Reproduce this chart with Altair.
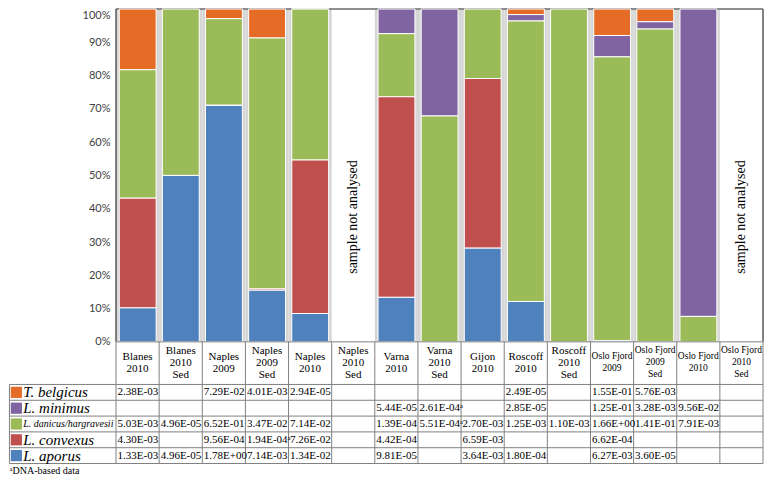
import altair as alt
import pandas as pd

# ---------------- data ----------------
columns = ["Blanes\n2010", "Blanes\n2010\nSed", "Naples\n2009", "Naples\n2009\nSed",
           "Naples\n2010", "Naples\n2010\nSed", "Varna\n2010", "Varna\n2010\nSed",
           "Gijon\n2010", "Roscoff\n2010", "Roscoff\n2010\nSed", "Oslo Fjord\n2009",
           "Oslo Fjord\n2009\nSed", "Oslo Fjord\n2010", "Oslo Fjord\n2010\nSed"]

species_keys = ["belgicus", "minimus", "danicus", "convexus", "aporus"]          # table order
species_names = ["T. belgicus", "L. minimus", "L. danicus/hargravesii", "L. convexus", "L. aporus"]
species_colors = ["#E46C26", "#8064A2", "#9BBB59", "#C0504D", "#4F81BD"]
stack_order = ["aporus", "convexus", "danicus", "minimus", "belgicus"]          # bottom -> top

belgicus = [2.38e-3, None, 7.29e-2, 4.01e-3, 2.94e-5, None, None, None, None, 2.49e-5, None, 1.55e-1, 5.76e-3, None, None]
minimus = [None, None, None, None, None, None, 5.44e-5, 2.61e-4, None, 2.85e-5, None, 1.25e-1, 3.28e-3, 9.56e-2, None]
danicus = [5.03e-3, 4.96e-5, 6.52e-1, 3.47e-2, 7.14e-2, None, 1.39e-4, 5.51e-4, 2.70e-3, 1.25e-3, 1.10e-3, 1.66e0, 1.41e-1, 7.91e-3, None]
convexus = [4.30e-3, None, 9.56e-4, 1.94e-4, 7.26e-2, None, 4.42e-4, None, 6.59e-3, None, None, 6.62e-4, None, None, None]
aporus = [1.33e-3, 4.96e-5, 1.78e0, 7.14e-3, 1.34e-2, None, 9.81e-5, None, 3.64e-3, 1.80e-4, None, 6.27e-3, 3.60e-5, None, None]
dna_based = [("convexus", 3), ("minimus", 7), ("danicus", 7)]

not_analysed_text = "sample not analysed"
footnote = "\u1d43DNA-based data"
y_ticks = [0, 0.1, 0.2, 0.3, 0.4, 0.5, 0.6, 0.7, 0.8, 0.9, 1.0]

series = {"belgicus": belgicus, "minimus": minimus, "danicus": danicus,
          "convexus": convexus, "aporus": aporus}

# ---------------- layout constants ----------------
W, H = 754, 466
XL = -2.481                      # left edge of the row-label column (column units)
YMIN, YMAX = -0.40, 1.0
HEAD_H = 0.128
ROW_H = 0.0475
HEAD_LINE = 12                   # px line height of header text
SERIF = "Liberation Serif"
LINE = "#808080"

xs = alt.Scale(domain=[XL, 15], nice=False, zero=False)
ys = alt.Scale(domain=[YMIN, YMAX], nice=False, zero=False)
px_per_col = W / (15 - XL)
px_per_y = H / (YMAX - YMIN)
color_scale = alt.Scale(domain=species_keys, range=species_colors)

# long table
rows = []
for r, key in enumerate(species_keys):
    for i, v in enumerate(series[key]):
        if v is None:
            continue
        lab = f"{v:.2E}" + ("\u1d43" if (key, i) in dna_based else "")
        rows.append({"species": key, "idx": i, "value": v, "label": lab,
                     "row": r, "sidx": stack_order.index(key)})
df = pd.DataFrame(rows)

cols_df = pd.DataFrame({"col": columns, "idx": list(range(15))})
analysed = sorted(df["idx"].unique().tolist())
cols_df["analysed"] = cols_df["idx"].isin(analysed)

yaxis = alt.Axis(values=y_ticks, format=".0%", offset=-(0 - XL) * px_per_col,
                 domain=False, ticks=False, grid=False, labelPadding=6,
                 labelFont="Lato", labelFontSize=11, labelColor="#404040",
                 labelFlush=True, title=None)

def X(f):
    return alt.X(f, type="quantitative", scale=xs, axis=None)

def Y(f):
    return alt.Y(f, type="quantitative", scale=ys, axis=yaxis)

# gray background behind analysed bars
bg = alt.Chart(cols_df).transform_filter("datum.analysed").transform_calculate(
    xa="datum.idx", xb="datum.idx + 1", ya="0", yb="1"
).mark_rect(color="#d6d6d6").encode(
    x=X("xa:Q"), x2="xb:Q", y=Y("ya:Q"), y2="yb:Q")

# frame lines of plot area
frame_df = pd.DataFrame({"part": ["top", "left", "right"]})
top_line = alt.Chart(frame_df).transform_filter("datum.part == 'top'").transform_calculate(
    xa="0", xb="15", ya="1").mark_rule(color="#6a6a6a", strokeWidth=1.5).encode(
    x=X("xa:Q"), x2="xb:Q", y=Y("ya:Q"))
side_lines = alt.Chart(frame_df).transform_filter("datum.part != 'top'").transform_calculate(
    xa="datum.part == 'left' ? 0 : 15", ya="0", yb="1").mark_rule(color="#595959", strokeWidth=1.5).encode(
    x=X("xa:Q"), y=Y("ya:Q"), y2="yb:Q")

# stacked 100% bars
bars = alt.Chart(df).transform_stack(
    stack="value", groupby=["idx"], as_=["y0", "y1"], offset="normalize",
    sort=[alt.SortField("sidx", order="ascending")]
).transform_calculate(
    xa="datum.idx + 0.075", xb="datum.idx + 0.93"
).mark_rect(stroke="white", strokeWidth=1).encode(
    x=X("xa:Q"), x2="xb:Q", y=Y("y0:Q"), y2="y1:Q",
    color=alt.Color("species:N", scale=color_scale, legend=None))

# "sample not analysed"
na_text = alt.Chart(cols_df).transform_filter("!datum.analysed").transform_calculate(
    xc="datum.idx + 0.5", yc="0.375", t=f"'{not_analysed_text}'"
).mark_text(angle=270, font=SERIF, fontSize=14, color="black").encode(
    x=X("xc:Q"), y=Y("yc:Q"), text="t:N")

# table lines
hl = [{"y": 0.0, "xa": 0.0}] + [{"y": -HEAD_H - ROW_H * k, "xa": XL + 0.01} for k in range(6)]
hlines = alt.Chart(pd.DataFrame(hl)).transform_calculate(xb="15").mark_rule(
    color=LINE, strokeWidth=1).encode(x=X("xa:Q"), x2="xb:Q", y=Y("y:Q"))
vl = [{"x": float(i), "ya": 0.0} for i in range(16)] + [{"x": XL + 0.01, "ya": -HEAD_H}]
vlines = alt.Chart(pd.DataFrame(vl)).transform_calculate(yb=str(-HEAD_H - 5 * ROW_H)).mark_rule(
    color=LINE, strokeWidth=1).encode(x=X("x:Q"), y=Y("ya:Q"), y2="yb:Q")

# column headers (block of lines vertically centred in the header row)
header = alt.Chart(cols_df).transform_calculate(
    xc="datum.idx + 0.5",
    nl="length(split(datum.col, '\\n'))",
).transform_calculate(
    yc=f"{-HEAD_H / 2} + datum.nl * {HEAD_LINE / 2 / px_per_y}",
    fs="indexof(datum.col, 'Oslo') >= 0 ? 9.5 : 11"
).mark_text(font=SERIF, lineBreak="\n", lineHeight=HEAD_LINE, baseline="top", color="black").encode(
    x=X("xc:Q"), y=Y("yc:Q"), text="col:N", size=alt.Size("fs:Q", scale=None))

# row labels with swatches
lab_df = pd.DataFrame({"species": species_keys, "name": species_names, "row": list(range(5))})
swatch = alt.Chart(lab_df).transform_calculate(
    xc=str(XL + 0.17), yc=f"{-HEAD_H} - {ROW_H} * (datum.row + 0.5)"
).mark_square(size=125, opacity=1).encode(
    x=X("xc:Q"), y=Y("yc:Q"),
    color=alt.Color("species:N", scale=color_scale, legend=None))
row_text = alt.Chart(lab_df).transform_calculate(
    xc=str(XL + 0.33), yc=f"{-HEAD_H} - {ROW_H} * (datum.row + 0.5)",
    fs="datum.species == 'danicus' ? 10 : 15"
).mark_text(font=SERIF, fontStyle="italic", align="left", baseline="middle", color="black").encode(
    x=X("xc:Q"), y=Y("yc:Q"), text="name:N", size=alt.Size("fs:Q", scale=None))

# cell values
cells = alt.Chart(df).transform_calculate(
    xc="datum.idx + 0.035", yc=f"{-HEAD_H} - {ROW_H} * (datum.row + 0.5)"
).mark_text(font=SERIF, fontSize=11, align="left", baseline="middle", color="black").encode(
    x=X("xc:Q"), y=Y("yc:Q"), text="label:N")

# footnote
foot = alt.Chart(pd.DataFrame({"t": [footnote]})).transform_calculate(
    xc=str(XL + 0.02), yc="-0.397"
).mark_text(font=SERIF, fontSize=10, align="left", baseline="alphabetic", color="black").encode(
    x=X("xc:Q"), y=Y("yc:Q"), text="t:N")

chart = alt.layer(
    bg, top_line, bars, side_lines, na_text, hlines, vlines, header,
    swatch, row_text, cells, foot
).properties(width=W, height=H, padding=0).configure_view(stroke=None)

chart.save("out.html", embed_options={"renderer": "svg", "actions": False})
